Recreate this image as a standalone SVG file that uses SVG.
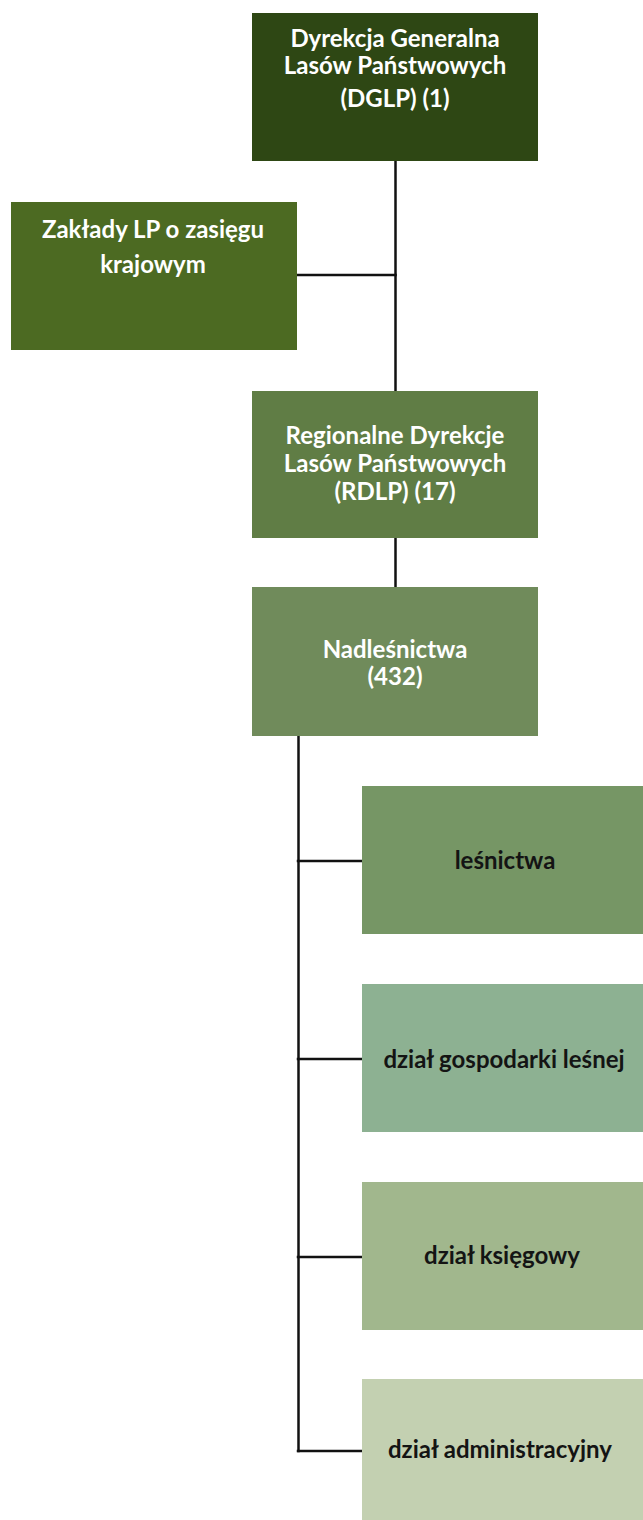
<svg xmlns="http://www.w3.org/2000/svg" width="643" height="1520" viewBox="0 0 643 1520">
<style>
text{font-family:Lato,"Open Sans","Liberation Sans",sans-serif;font-weight:bold;font-size:24px;text-anchor:middle}
.w{fill:#ffffff}
.k{fill:#141414}
.c{stroke:#111111;stroke-width:2.5;fill:none;stroke-linecap:square}
</style>
<rect width="643" height="1520" fill="#ffffff"/>
<g id="connectors">
<line class="c" x1="395.5" y1="161" x2="395.5" y2="391"/>
<line class="c" x1="297" y1="275" x2="395.5" y2="275"/>
<line class="c" x1="395.5" y1="538" x2="395.5" y2="587"/>
<line class="c" x1="298.5" y1="736" x2="298.5" y2="1451"/>
<line class="c" x1="298" y1="861" x2="362" y2="861"/>
<line class="c" x1="298" y1="1059" x2="362" y2="1059"/>
<line class="c" x1="298" y1="1257" x2="362" y2="1257"/>
<line class="c" x1="298" y1="1451" x2="362" y2="1451"/>
</g>
<g id="dglp">
<rect x="252" y="13" width="286" height="148" fill="#2e4714"/>
<text class="w" x="395" y="47">Dyrekcja Generalna</text>
<text class="w" x="395" y="74">Lasów Państwowych</text>
<text class="w" x="395" y="107">(DGLP) (1)</text>
</g>
<g id="zaklady">
<rect x="11" y="202" width="286" height="148" fill="#4c6a22"/>
<text class="w" x="153" y="238">Zakłady LP o zasięgu</text>
<text class="w" x="153" y="273">krajowym</text>
</g>
<g id="rdlp">
<rect x="252" y="391" width="286" height="147" fill="#607d45"/>
<text class="w" x="395" y="444">Regionalne Dyrekcje</text>
<text class="w" x="395" y="472">Lasów Państwowych</text>
<text class="w" x="395" y="500">(RDLP) (17)</text>
</g>
<g id="nadlesnictwa">
<rect x="252" y="587" width="286" height="149" fill="#708b5b"/>
<text class="w" x="395" y="658">Nadleśnictwa</text>
<text class="w" x="395" y="685">(432)</text>
</g>
<g id="lesnictwa">
<rect x="362" y="786" width="281" height="148" fill="#769665"/>
<text class="k" x="505" y="869">leśnictwa</text>
</g>
<g id="gospodarka">
<rect x="362" y="984" width="281" height="148" fill="#8db192"/>
<text class="k" x="504" y="1068">dział gospodarki leśnej</text>
</g>
<g id="ksiegowy">
<rect x="362" y="1182" width="281" height="148" fill="#a1b78d"/>
<text class="k" x="502" y="1264">dział księgowy</text>
</g>
<g id="administracyjny">
<rect x="362" y="1379" width="281" height="148" fill="#c3d0b1"/>
<text class="k" x="500" y="1458">dział administracyjny</text>
</g>
</svg>
